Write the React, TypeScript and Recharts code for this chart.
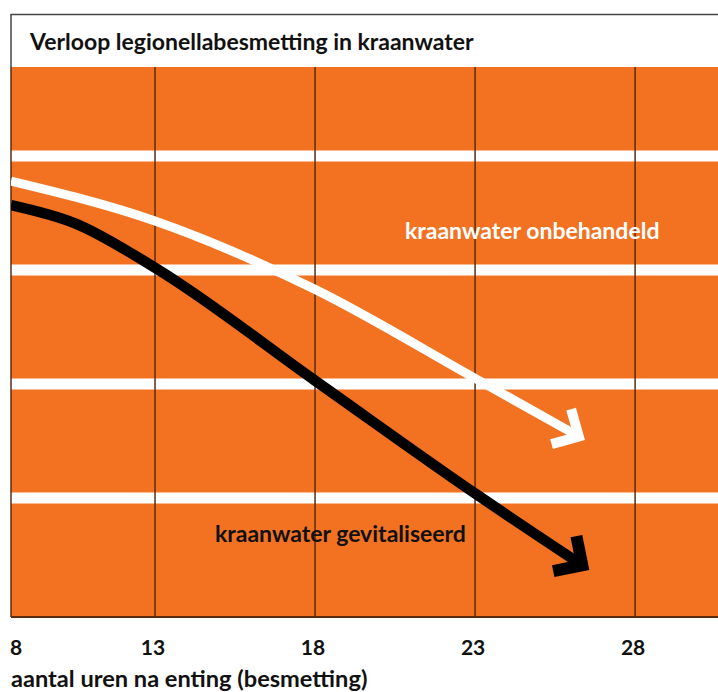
import { CartesianGrid, Line, LineChart, XAxis, YAxis } from "recharts";

// hours after inoculation; 8.5 is where the plot starts (labelled "8")
const xTicks = [8.5, 13, 18, 23, 28];
const xTickLabels = ["8", "13", "18", "23", "28"];
const bandLevels = [1, 2, 3, 4];

const untreatedHours = [8.5, 13, 18, 23, 26.24];
const untreatedValues = [3.78, 3.43, 2.83, 2.05, 1.54];

const revitalizedHours = [8.5, 10.5, 13, 18, 23, 26.35];
const revitalizedValues = [3.57, 3.41, 3.02, 2.03, 1.04, 0.41];

const untreated = untreatedHours.map((h, i) => ({ h, v: untreatedValues[i] }));
const revitalized = revitalizedHours.map((h, i) => ({ h, v: revitalizedValues[i] }));

const ORANGE = "#f27222";
const BROWN = "#5b2c0e";
const FONT = "Lato, 'DejaVu Sans', sans-serif";

function HourTick(props: any) {
  const { x, y, index } = props;
  const first = index === 0;
  return (
    <text
      x={first ? x - 1 : x - 2}
      y={y + 38}
      textAnchor={first ? "start" : "middle"}
      fontFamily={FONT}
      fontWeight={700}
      fontSize={21}
      fill="#111"
    >
      {xTickLabels[index]}
    </text>
  );
}

function NoTick() {
  return <g />;
}

export default function App() {
  return (
    <div
      style={{
        position: "fixed",
        left: 0,
        top: 0,
        width: 718,
        height: 692,
        overflow: "hidden",
        background: "#fff",
      }}
    >
      <LineChart width={718} height={692} margin={{ top: 67, right: 0, bottom: 0, left: 11 }}>
        <CartesianGrid
          vertical={false}
          syncWithTicks
          stroke="#ffffff"
          strokeWidth={11}
          fill={ORANGE}
          fillOpacity={1}
        />
        <CartesianGrid horizontal={false} syncWithTicks stroke={BROWN} strokeWidth={1.5} />
        <XAxis
          type="number"
          dataKey="h"
          domain={[8.5, 30.59]}
          ticks={xTicks}
          allowDataOverflow
          height={75}
          tickSize={0}
          tickMargin={0}
          tickLine={false}
          axisLine={{ stroke: BROWN, strokeWidth: 2 }}
          tick={(p: any) => <HourTick {...p} />}
        />
        <YAxis
          type="number"
          domain={[-0.044, 4.781]}
          ticks={bandLevels}
          allowDataOverflow
          width={0}
          tick={NoTick}
          tickLine={false}
          axisLine={false}
        />
        <Line
          data={untreated}
          dataKey="v"
          type="monotone"
          stroke="#ffffff"
          strokeWidth={9}
          dot={false}
          activeDot={false}
          markerEnd="url(#arrowWhite)"
          isAnimationActive={false}
        />
        <Line
          data={revitalized}
          dataKey="v"
          type="monotone"
          stroke="#000000"
          strokeWidth={10.5}
          dot={false}
          activeDot={false}
          markerEnd="url(#arrowBlack)"
          isAnimationActive={false}
        />
      </LineChart>

      <svg
        width={718}
        height={692}
        style={{ position: "absolute", left: 0, top: 0, pointerEvents: "none" }}
      >
        <defs>
          <marker
            id="arrowWhite"
            markerUnits="userSpaceOnUse"
            viewBox="0 0 60 60"
            markerWidth={60}
            markerHeight={60}
            refX={40}
            refY={30}
            orient="auto"
            style={{ overflow: "visible" }}
          >
            <path d="M 20 10 L 40 30 L 20 50" fill="none" stroke="#ffffff" strokeWidth={10} strokeLinejoin="miter" />
          </marker>
          <marker
            id="arrowBlack"
            markerUnits="userSpaceOnUse"
            viewBox="0 0 60 60"
            markerWidth={60}
            markerHeight={60}
            refX={40}
            refY={30}
            orient="auto"
            style={{ overflow: "visible" }}
          >
            <path d="M 19 9 L 40 30 L 19 51" fill="none" stroke="#000000" strokeWidth={12} strokeLinejoin="miter" />
          </marker>
        </defs>
        <line x1={10.5} y1={14.5} x2={718} y2={14.5} stroke="#444" strokeWidth={1.5} />
        <line x1={11} y1={14} x2={11} y2={67} stroke="#444" strokeWidth={1.5} />
        <text x={30} y={50} fontFamily={FONT} fontWeight={700} fontSize={23} fill="#111">
          Verloop legionellabesmetting in kraanwater
        </text>
        <text x={405} y={239} fontFamily={FONT} fontWeight={700} fontSize={23} fill="#ffffff">
          kraanwater onbehandeld
        </text>
        <text x={215} y={542} fontFamily={FONT} fontWeight={700} fontSize={23} fill="#111">
          kraanwater gevitaliseerd
        </text>
        <text x={11} y={687} fontFamily={FONT} fontWeight={700} fontSize={23.6} fill="#111">
          aantal uren na enting (besmetting)
        </text>
      </svg>
    </div>
  );
}
